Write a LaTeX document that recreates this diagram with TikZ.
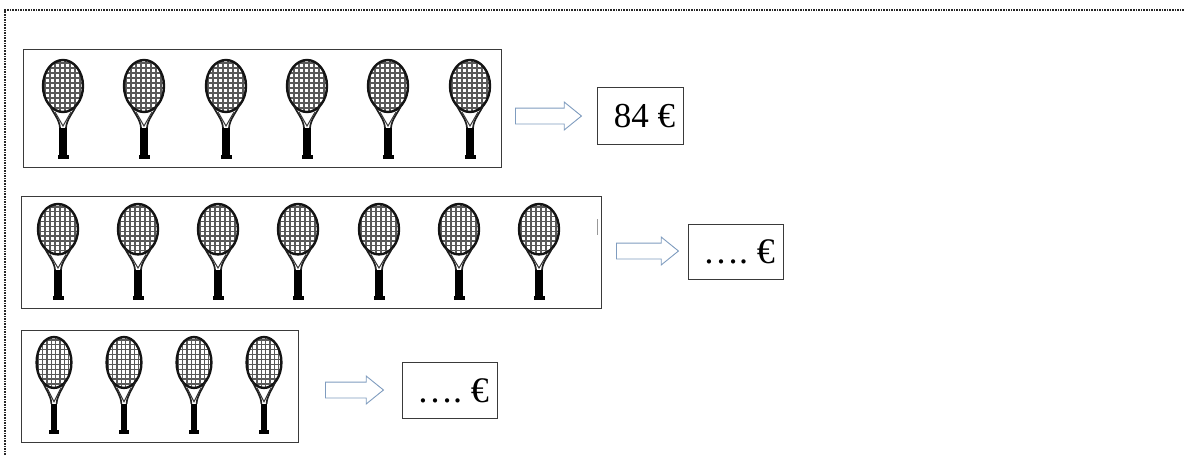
\documentclass[tikz,border=0pt]{standalone}
\usepackage{fontspec}
\setmainfont{Liberation Serif}
\frenchspacing
\usetikzlibrary{shapes.arrows}
\definecolor{arrowblue}{HTML}{7F9CBF}
\definecolor{boxgrey}{HTML}{3A3A3A}
\tikzset{
  rowbox/.style={draw=boxgrey,line width=1pt,anchor=north west,inner sep=0pt},
  valbox/.style={draw=boxgrey,line width=1pt,anchor=north west,inner sep=0pt,text=black},
  blockarrow/.style={shape=single arrow,draw=arrowblue,fill=white,line width=.9pt,inner sep=0pt,
    single arrow head extend=6pt,single arrow tip angle=78,anchor=west},
  frameline/.style={line width=1.5pt,draw=black!85,dash pattern=on 1.6pt off 1pt},
  stringline/.style={line width=1.3pt,draw=black!65},
  rim/.style={line width=2.4pt,draw=black!92},
  throatline/.style={line width=1.7pt,draw=black!88,line cap=round},
}
\newcommand{\racketat}[4]{%
  \begin{scope}[shift={(#1,#2)},xscale=#3,yscale=#4]
    \begin{scope}
      \clip (0,26) ellipse [x radius=20,y radius=26];
      \foreach \sx in {-18,-13,-8,-3,2,7,12,17}
        \draw[stringline] (\sx,0) -- (\sx,52);
      \foreach \sy in {3,8,13,18,23,28,33,38,43,48}
        \draw[stringline] (-21,\sy) -- (21,\sy);
    \end{scope}
    \draw[rim] (0,26) ellipse [x radius=20,y radius=26];
    \draw[throatline] (-13,46) .. controls (-9,54) and (-3.5,60) .. (-3,68);
    \draw[throatline] (13,46) .. controls (9,54) and (3.5,60) .. (3,68);
    \draw[line width=1pt,draw=black!80] (-8,52) -- (0,66) -- (8,52);
    \fill[black] (-3.8,68) rectangle (3.8,96);
    \fill[black] (-5.5,94.5) rectangle (5.5,98.5);
  \end{scope}}
\begin{document}
\begin{tikzpicture}[x=1pt,y=-1pt]
\useasboundingbox (0,0) rectangle (1185,455);
\coordinate (frameBL) at (5,455);
\coordinate (frameTL) at (5,10);
\coordinate (frameTR) at (1185,10);
\draw[frameline] (frameBL) -- (frameTL) -- (frameTR);

% row boxes
\node[rowbox,minimum width=478pt,minimum height=118pt] (rowA) at (23,49) {};
\node[rowbox,minimum width=580pt,minimum height=112pt] (rowB) at (21,196) {};
\node[rowbox,minimum width=277pt,minimum height=112pt] (rowC) at (21,330) {};
\draw[line width=1pt,draw=black!40] (597,219) -- (597,235);

% rackets
\foreach \cx in {63,144,226,307,388,470} \racketat{\cx}{60}{1}{1};
\foreach \cx in {58,138,218,298,379,459,539} \racketat{\cx}{204}{1}{.97};
\foreach \cx in {54,124,194,264} \racketat{\cx}{337}{.87}{.98};

% arrows
\node[blockarrow,minimum height=66pt] (arrowA) at (515,116) {\rule{0pt}{15pt}};
\node[blockarrow,minimum height=62pt] (arrowB) at (616,251) {\rule{0pt}{15pt}};
\node[blockarrow,minimum height=58pt] (arrowC) at (325,390) {\rule{0pt}{15pt}};

% values
\node[valbox,minimum width=86pt,minimum height=57pt,font=\fontsize{35}{37}\selectfont] (valA) at (597,87) {\makebox[69pt][r]{84 €}};
\node[valbox,minimum width=95pt,minimum height=55pt,font=\fontsize{36}{38}\selectfont] (valB) at (688,224) {\makebox[78pt][r]{…. €}};
\node[valbox,minimum width=95pt,minimum height=56pt,font=\fontsize{36}{38}\selectfont] (valC) at (402,362) {\makebox[78pt][r]{…. €}};
\end{tikzpicture}
\end{document}
